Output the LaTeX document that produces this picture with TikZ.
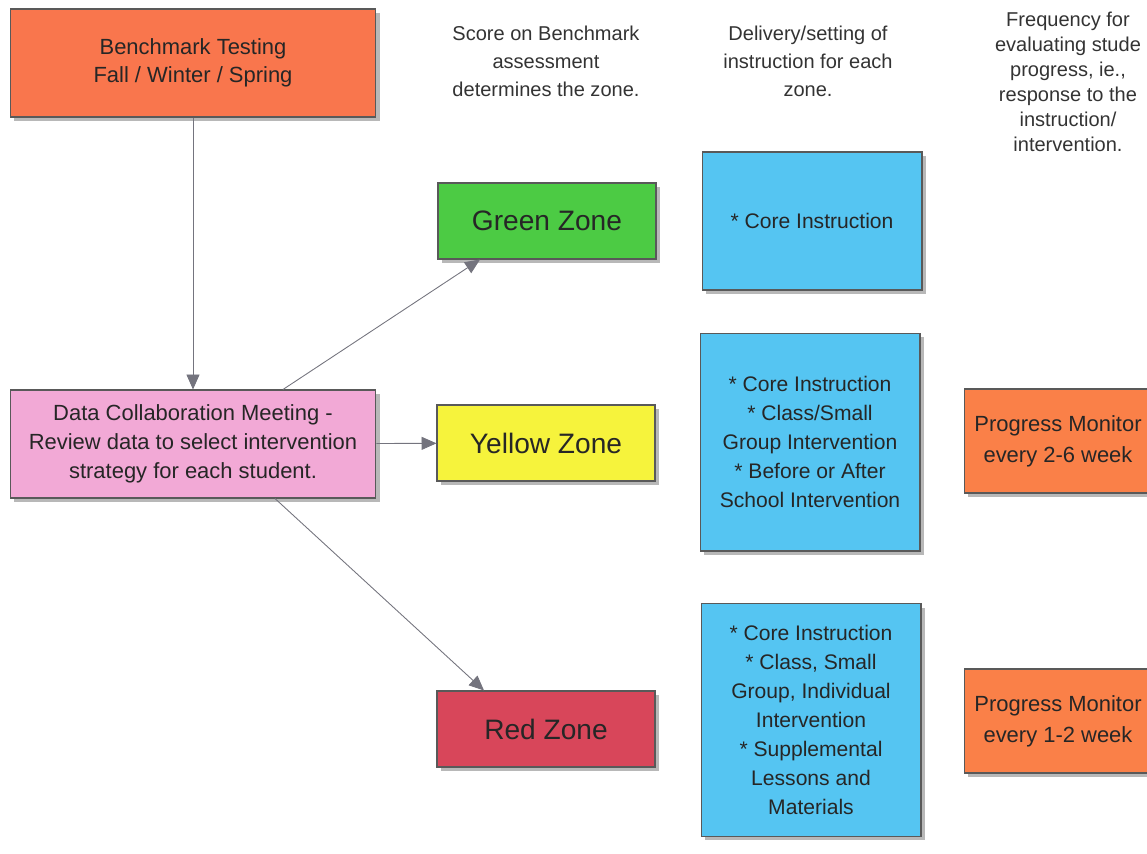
\documentclass[tikz,border=0pt]{standalone}
\usepackage{fontspec}
\setmainfont{Liberation Sans}
\usetikzlibrary{arrows.meta}
\usetikzlibrary{shadows}
\definecolor{benchorange}{HTML}{F9764D}
\definecolor{monorange}{HTML}{FA8048}
\definecolor{zonegreen}{HTML}{4CCB44}
\definecolor{zoneyellow}{HTML}{F6F33C}
\definecolor{zonered}{HTML}{D8465A}
\definecolor{meetpink}{HTML}{F2A9D6}
\definecolor{planblue}{HTML}{55C5F2}
\definecolor{linkgray}{HTML}{74747E}
\tikzset{box/.style = {draw=black!65, line width=0.6pt, align=center, text=black!85,
    drop shadow={shadow xshift=0.08cm, shadow yshift=-0.08cm, fill=black!28, opacity=1}}}
\tikzset{zone/.style = {box, minimum width=4.36cm, minimum height=1.52cm, font=\fontsize{16}{19}\selectfont}}
\tikzset{plan/.style = {box, fill=planblue, minimum width=4.4cm, font=\fontsize{12}{16.5}\selectfont}}
\tikzset{monitor/.style = {box, fill=monorange, minimum width=4.52cm, minimum height=2.08cm}}
\tikzset{montext/.style = {align=center, text=black!85, font=\fontsize{12.5}{17.5}\selectfont}}
\tikzset{note/.style = {align=center, text=black!80, font=\fontsize{11.4}{16}\selectfont}}
\tikzset{link/.style = {draw=linkgray, line width=0.5pt, -{Triangle[length=8.5pt, width=7.4pt]}}}

\begin{document}
\begin{tikzpicture}[x=0.02cm, y=-0.02cm]
    \useasboundingbox (0,0) rectangle (1147,853);
    \clip (0,0) rectangle (1147,853);
    % left column
    \node[box, fill=benchorange, minimum width=7.32cm, minimum height=2.16cm,
          font=\fontsize{12.5}{16}\selectfont] (bench) at (193,63)
          {Benchmark Testing\\Fall / Winter / Spring};
    \node[box, fill=meetpink, minimum width=7.32cm, minimum height=2.16cm,
          font=\fontsize{12.5}{16.5}\selectfont] (meet) at (193,444)
          {Data Collaboration Meeting -\\Review data to select intervention\\strategy for each student.};
    % column headings
    \node[note] (scorehead) at (546,61) {Score on Benchmark\\assessment\\determines the zone.};
    \node[note] (planhead) at (808,61) {Delivery/setting of\\instruction for each\\zone.};
    \node[note, font=\fontsize{11.4}{14.2}\selectfont] (freqhead) at (1068,82)
          {Frequency for\\evaluating stude\\progress, ie.,\\response to the\\instruction/\\intervention.};
    % zones
    \node[zone, fill=zonegreen] (green) at (547,221) {Green Zone};
    \node[zone, fill=zoneyellow] (yellow) at (546,443) {Yellow Zone};
    \node[zone, fill=zonered] (red) at (546,729) {Red Zone};
    % instruction
    \node[plan, minimum height=2.76cm] (core1) at (812,221) {* Core Instruction};
    \node[plan, minimum height=4.36cm] (core2) at (810,442)
          {* Core Instruction\\* Class/Small\\Group Intervention\\* Before or After\\School Intervention};
    \node[plan, minimum height=4.66cm] (core3) at (811,720)
          {* Core Instruction\\* Class, Small\\Group, Individual\\Intervention\\* Supplemental\\Lessons and\\Materials};
    % progress monitoring, box runs off the right edge
    \node[monitor] (pm1) at (1077,441) {};
    \node[montext] (pm1text) at (1058,441) {Progress Monitor\\every 2-6 week};
    \node[monitor] (pm2) at (1077,721) {};
    \node[montext] (pm2text) at (1058,721) {Progress Monitor\\every 1-2 week};
    % arrows
    \draw[link] (bench) -- (meet);
    \draw[link] ([xshift=1.8cm]meet.north) -- ([xshift=-1.34cm]green.south);
    \draw[link] (meet) -- (yellow);
    \draw[link] ([xshift=1.64cm]meet.south) -- ([xshift=-1.24cm]red.north);
\end{tikzpicture}
\end{document}
